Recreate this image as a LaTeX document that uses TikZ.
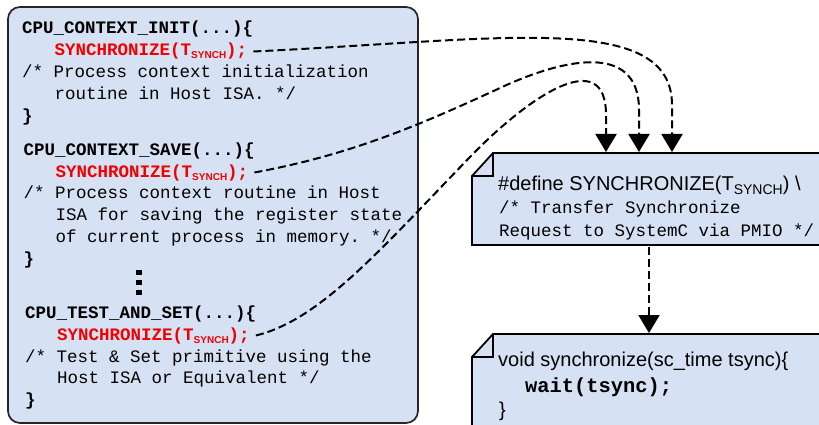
\documentclass[tikz,border=0pt]{standalone}
\usepackage{fontspec}
\setmainfont{Liberation Sans}
\setsansfont{Liberation Sans}
\setmonofont{Liberation Mono}
\usetikzlibrary{arrows.meta}

\definecolor{boxblue}{RGB}{214,226,243}
\definecolor{syncred}{RGB}{240,0,0}

% T with the SYNCH subscript (code lines and the #define line)
\newcommand{\tsynch}{T\raisebox{-3pt}{\sffamily\bfseries\fontsize{10}{10}\selectfont SYNCH}}
\newcommand{\tsynchdef}{T\raisebox{-4pt}{\fontsize{14}{14}\selectfont SYNCH}}

\tikzset{
  code/.style={anchor=base west, inner sep=0pt, font=\ttfamily\fontsize{17.5}{22}\selectfont},
  codebf/.style={code, font=\ttfamily\bfseries\fontsize{17.5}{22}\selectfont},
  synccall/.style={codebf, text=syncred},
  plain/.style={anchor=base west, inner sep=0pt, font=\sffamily\fontsize{20}{24}\selectfont},
  notebox/.style={draw=black, line width=1.8pt, fill=boxblue},
  link/.style={line width=2pt, dash pattern=on 8pt off 4pt,
    -{Triangle[width=21pt,length=18pt]}},
}

\begin{document}
\begin{tikzpicture}[x=1pt,y=-1pt]
  \useasboundingbox (0,0) rectangle (819,425);
  \clip (0,0) rectangle (819,425);

  % guest side: CPU routines
  \draw[draw=black!85, line width=1.7pt, fill=boxblue, rounded corners=12pt]
    (8,7) rectangle (418,423);

  \node[codebf] (init) at (22,34) {CPU\_CONTEXT\_INIT(...)\{};
  \node[synccall] (sync1) at (54.5,56) {SYNCHRONIZE(\tsynch);};
  \node[code] (cmt1a) at (22,78) {/* Process context initialization};
  \node[code] (cmt1b) at (54.5,100) {routine in Host ISA. */};
  \node[codebf] (end1) at (22,122) {\}};

  \node[codebf] (save) at (23.5,155) {CPU\_CONTEXT\_SAVE(...)\{};
  \node[synccall] (sync2) at (55.5,177) {SYNCHRONIZE(\tsynch);};
  \node[code] (cmt2a) at (23.5,198) {/* Process context routine in Host};
  \node[code] (cmt2b) at (55.5,220) {ISA for saving the register state};
  \node[code] (cmt2c) at (55.5,242) {of current process in memory. */};
  \node[codebf] (end2) at (23.5,264) {\}};

  \foreach \y in {272,282,292}
    \fill (139,\y) ++(-2.8,-2.5) rectangle ++(5.6,5);

  \node[codebf] (tas) at (25,318) {CPU\_TEST\_AND\_SET(...)\{};
  \node[synccall] (sync3) at (57,340) {SYNCHRONIZE(\tsynch);};
  \node[code] (cmt3a) at (25,362) {/* Test \& Set primitive using the};
  \node[code] (cmt3b) at (57,383) {Host ISA or Equivalent */};
  \node[codebf] (end3) at (25,405) {\}};

  % host side: macro and SystemC function
  \draw[notebox] (472,176) -- (493,153) -- (830,153) -- (830,245) -- (472,245) -- cycle;
  \draw[line width=1.8pt] (493,153) -- (493,176) -- (472,176);
  \node[plain] (def) at (498,190) {\#define SYNCHRONIZE(\tsynchdef) \textbackslash};
  \node[code] (defc1) at (499,213) {/* Transfer Synchronize};
  \node[code] (defc2) at (499,236) {Request to SystemC via PMIO */};

  \draw[notebox] (472,357) -- (493,334) -- (830,334) -- (830,440) -- (472,440) -- cycle;
  \draw[line width=1.8pt] (493,334) -- (493,357) -- (472,357);
  \node[plain] (impl) at (498,366) {void synchronize(sc\_time tsync)\{};
  \node[codebf, font=\ttfamily\bfseries\fontsize{20.4}{24}\selectfont] (wait) at (525,392) {wait(tsync);};
  \node[plain] (end4) at (499,416) {\}};

  \coordinate (in1) at (606,152);
  \coordinate (in2) at (639,152);
  \coordinate (in3) at (672,152);
  \coordinate (defout) at (649,247);
  \coordinate (implin) at (649,333);

  % connectors
  \draw[link] ([xshift=6pt]sync1.east) .. controls (500,40) and (672,10) .. (672,105) -- (in3);
  \draw[link] ([xshift=6pt]sync2.east) .. controls (350,155) and (420,125) .. (500,88)
    .. controls (560,60) and (639,40) .. (639,110) -- (in2);
  \draw[link] ([xshift=6pt]sync3.east) .. controls (320,320) and (380,250) .. (470,157)
    .. controls (530,95) and (606,45) .. (606,115) -- (in1);
  \draw[link] (defout) -- (implin);
\end{tikzpicture}
\end{document}
